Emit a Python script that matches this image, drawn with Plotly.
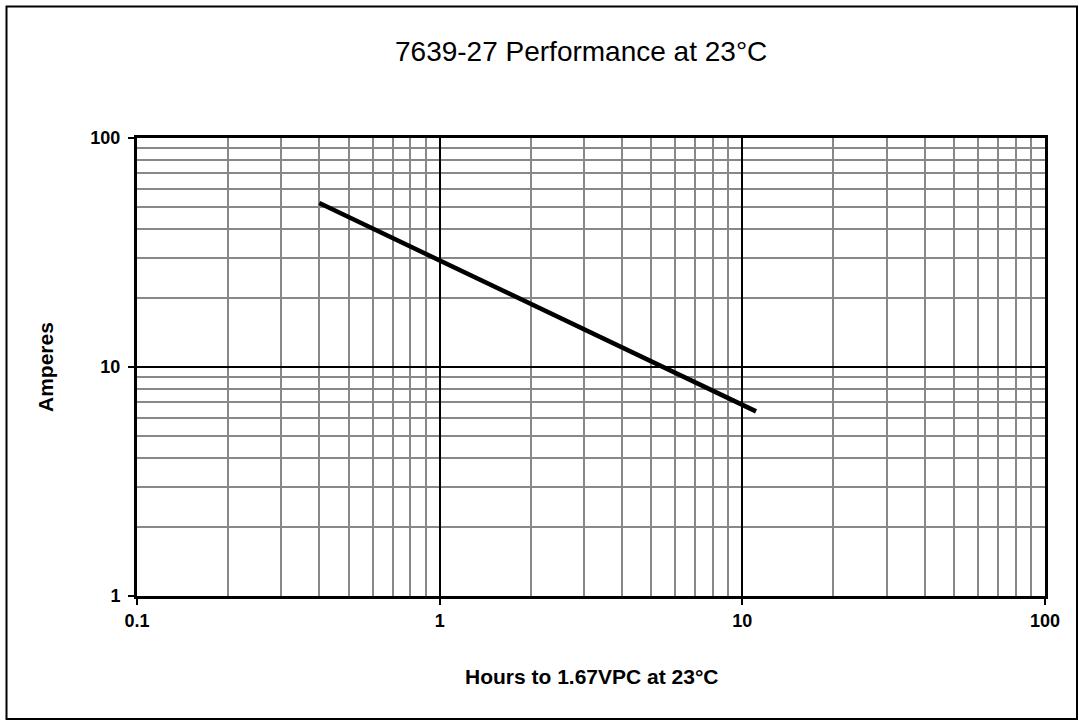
import plotly.graph_objects as go

hours = [0.4, 1.0, 2.0, 5.0, 11.1]
amperes = [52.0, 29.2, 18.9, 10.6, 6.4]

x_ticks = [0.1, 1, 10, 100]
x_tick_text = ["0.1", "1", "10", "100"]
y_ticks = [1, 10, 100]
y_tick_text = ["1", "10", "100"]

title_text = "7639-27 Performance at 23°C"
x_title = "Hours to 1.67VPC at 23°C"
y_title = "Amperes"

x_minor = [m * d for d in (0.1, 1, 10) for m in range(2, 10)]
y_minor = [m * d for d in (1, 10) for m in range(2, 10)]

W, H = 1079, 725
L, R, T, B = 137, 1045, 138, 596
pw, ph = R - L, B - T

def px(xp):
    return (xp - L) / pw

def py(yp):
    return (B - yp) / ph

font_family = "Arial, Liberation Sans, sans-serif"

fig = go.Figure()
fig.add_trace(go.Scatter(x=hours, y=amperes, mode="lines",
                         line=dict(color="black", width=4.5), showlegend=False,
                         hoverinfo="skip"))

axis_common = dict(
    type="log", tickmode="array", showgrid=True, gridcolor="black", gridwidth=2,
    showline=True, linecolor="black", linewidth=3, mirror=True,
    ticks="outside", ticklen=6, tickwidth=2, tickcolor="black",
    tickfont=dict(family=font_family, size=18, color="black", weight="bold"),
    zeroline=False,
)

fig.update_xaxes(range=[-1, 2], tickvals=x_ticks, ticktext=x_tick_text,
                 minor=dict(tickvals=x_minor, showgrid=True, gridcolor="#888888", gridwidth=2, ticks=""),
                 **axis_common)
fig.update_yaxes(range=[0, 2], tickvals=y_ticks, ticktext=y_tick_text, ticklabelstandoff=4,
                 minor=dict(tickvals=y_minor, showgrid=True, gridcolor="#888888", gridwidth=2, ticks=""),
                 **axis_common)

fig.update_layout(
    width=W, height=H,
    margin=dict(l=L, r=W - R, t=T, b=H - B, autoexpand=False),
    paper_bgcolor="white", plot_bgcolor="white",
    showlegend=False,
    annotations=[
        dict(text=title_text, x=px(581), y=py(52), xref="paper", yref="paper",
             showarrow=False, xanchor="center", yanchor="middle",
             font=dict(family=font_family, size=28, color="black")),
        dict(text=x_title, x=px(591), y=py(676), xref="paper", yref="paper",
             showarrow=False, xanchor="center", yanchor="middle",
             font=dict(family=font_family, size=21, color="black", weight="bold")),
        dict(text=y_title, x=px(45), y=py(367), xref="paper", yref="paper",
             showarrow=False, xanchor="center", yanchor="middle", textangle=-90,
             font=dict(family=font_family, size=21, color="black", weight="bold")),
    ],
    shapes=[
        dict(type="rect", xref="paper", yref="paper",
             x0=px(6.5), x1=px(1077), y0=py(719), y1=py(6.5),
             line=dict(color="black", width=2), fillcolor="rgba(0,0,0,0)", layer="below"),
    ],
)

fig.write_html("out.html", config={"displayModeBar": False},
               post_script="document.body.style.margin='0';document.body.style.overflow='hidden';")
